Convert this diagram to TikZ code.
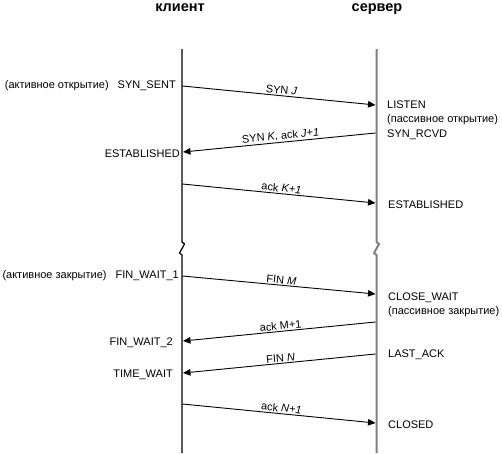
\documentclass[tikz,border=0pt]{standalone}
\usepackage{fontspec}
\setmainfont{Liberation Sans}
\usetikzlibrary{arrows.meta}
\begin{document}
\begin{tikzpicture}[x=1pt,y=-1pt,
  font=\fontsize{11}{13}\selectfont,
  msg/.style={-{Triangle[length=7.5pt,width=6.5pt]}, line width=0.9pt},
  msgback/.style={{Triangle[length=7.5pt,width=6.5pt]}-, line width=0.9pt},
  lbl/.style={sloped, above, inner sep=1.2pt, pos=0.51},
  lst/.style={anchor=base east, inner sep=0pt},
  rst/.style={anchor=base west, inner sep=0pt},
  title/.style={font=\fontsize{14.5}{17}\selectfont\bfseries, anchor=base, inner sep=0pt},
  cline/.style={line width=1.2pt, black},
  sline/.style={line width=2pt, gray}]
\useasboundingbox (0,0) rectangle (502,453);

% titles
\node[title] (tc) at (180,11) {клиент};
\node[title] (ts) at (377,11) {сервер};

% lifelines
\coordinate (ctop) at (182,49);
\coordinate (cbot) at (182,453);
\coordinate (stop) at (376.5,49);
\coordinate (sbot) at (376.5,453);
\draw[cline] (ctop) -- (182,242) -- (184.5,244) -- (179.5,253) -- (182,255) -- (cbot);
\draw[sline] (stop) -- (376.5,242) -- (379,244) -- (374,253) -- (376.5,255) -- (sbot);

% message end points
\coordinate (c1) at (182.5,86);  \coordinate (s1) at (375.5,105);
\coordinate (c2) at (183,152);   \coordinate (s2) at (375.5,133);
\coordinate (c3) at (182.5,184); \coordinate (s3) at (375.5,203);
\coordinate (c4) at (182.5,276); \coordinate (s4) at (375.5,294);
\coordinate (c5) at (183,341);   \coordinate (s5) at (375.5,322);
\coordinate (c6) at (183,373);   \coordinate (s6) at (375.5,354);
\coordinate (c7) at (182.5,404); \coordinate (s7) at (375.5,423);

% messages
\draw[msg] (c1) -- node[lbl] (m1) {SYN \textit{J}} (s1);
\draw[msgback] (c2) -- node[lbl] (m2) {SYN \textit{K}, ack \textit{J+1}} (s2);
\draw[msg] (c3) -- node[lbl] (m3) {ack \textit{K+1}} (s3);
\draw[msg] (c4) -- node[lbl] (m4) {FIN \textit{M}} (s4);
\draw[msgback] (c5) -- node[lbl] (m5) {ack M+1} (s5);
\draw[msgback] (c6) -- node[lbl] (m6) {FIN \textit{N}} (s6);
\draw[msg] (c7) -- node[lbl] (m7) {ack \textit{N+1}} (s7);

% client states
\node[lst] (l1) at (176,88) {(активное открытие)\hspace{6pt} SYN\_SENT};
\node[lst] (l2) at (180,157) {ESTABLISHED};
\node[lst] (l3) at (179,278) {(активное закрытие)\hspace{6pt} FIN\_WAIT\_1};
\node[lst] (l4) at (173,345) {FIN\_WAIT\_2};
\node[lst] (l5) at (173,377) {TIME\_WAIT};

% server states
\node[rst] (r1) at (387,108) {LISTEN};
\node[rst] (r2) at (387,122.5) {(пассивное открытие)};
\node[rst] (r3) at (387,137) {SYN\_RCVD};
\node[rst] (r4) at (388,208) {ESTABLISHED};
\node[rst] (r5) at (388,300) {CLOSE\_WAIT};
\node[rst] (r6) at (388,314) {(пассивное закрытие)};
\node[rst] (r7) at (388,357) {LAST\_ACK};
\node[rst] (r8) at (388,428) {CLOSED};
\end{tikzpicture}
\end{document}
